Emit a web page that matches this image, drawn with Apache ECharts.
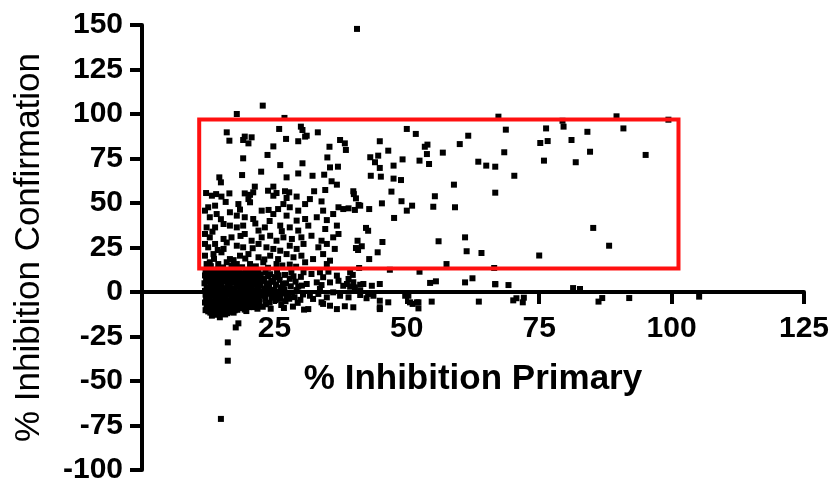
<!DOCTYPE html>
<html><head><meta charset="utf-8">
<script src="https://cdn.jsdelivr.net/npm/echarts@6/dist/echarts.min.js"></script>
<style>html,body{margin:0;padding:0;background:#fff}#c{width:835px;height:482px}</style>
</head><body><div id="c"></div>
<script>
// ---- data ----
const xTitle = '% Inhibition Primary';
const yTitle = '% Inhibition Confirmation';
// hit-selection gate: [xMin, yMin, xMax, yMax]
const gateBox = [10.8, 13.2, 101.3, 96.9];

const upperLeftPoints = [[22.8,104.7],[17.9,100],[26.9,97.8],[16.0,89.7],[16.5,85],[25.9,91.6],[30.0,92.9],[30.3,91],[30.8,87.3],[31.1,87.8],[33.2,89.7],[19.4,87.3],[20.7,86.9],[20.1,83.5],[19.1,85.4],[27.2,86],[29.5,84.7],[24.8,81.8],[37.4,85.4],[38.3,83.5],[38.5,79.8],[35.4,81.6],[23.7,77],[19.1,75.1],[35,75.6],[26.1,71.3],[30.3,72.3],[35.5,70],[37,70.4],[22.5,67.6],[18.9,65.7],[14.6,64.4],[14.9,61.6],[27.3,64.4],[29.5,66.6],[32.2,65.3],[34.4,65.9],[35.8,62.2],[36.8,60.3],[21.3,59.2],[24.8,59.2],[23.8,56.9],[25.4,55.6],[27,56.6],[27.8,56],[32.5,56.6],[34.6,57.3],[12.1,55.6],[13.2,54.1],[14,55],[16.5,55.4],[19.4,55.4],[20.4,54.6],[21,56]];

const leftBoxPoints = [[15.0,53.6],[20.1,52.2],[24.8,54.1],[27.3,52.8],[29.2,53.6],[31.7,52.2],
[12.5,47.6],[13.8,48.5],[18.2,49.4],[20.4,50.4],[22.6,45.7],[23.9,46.1],[25.7,46.6],[26.7,49.4],[27.9,47.6],[29.5,45.7],[30.8,49.4],[33.9,50.9],[34.2,45.7],[37.1,47.6],[38.0,46.6],[11.9,45.7],
[12.8,42.0],[14.1,43.8],[16.6,44.8],[17.9,42.9],[19.4,42.0],[21.0,41.0],[24.8,43.8],[27.3,42.9],[29.2,40.1],[30.8,41.0],[33.0,42.0],[34.9,40.4],[36.1,43.8],
[13.8,36.3],[15.4,38.2],[16.6,37.3],[17.9,36.3],[19.1,37.3],[22.0,34.5],[23.2,36.3],[26.1,37.3],[27.9,36.3],[29.5,34.5],[31.4,37.3],[34.6,35.4],[36.8,37.3],[12.2,36.3],
[11.9,32.6],[12.8,30.7],[15.4,29.8],[16.9,30.7],[19.4,32.6],[20.7,28.8],[22.6,30.7],[24.2,31.6],[25.4,28.8],[26.7,30.7],[28.3,29.8],[30.1,30.7],[32.0,31.6],[33.9,28.8],[36.1,30.7],[37.1,32.6],
[12.5,25.1],[13.8,27.0],[15.4,24.2],[17.9,26.0],[19.1,25.1],[22.0,27.0],[23.5,25.1],[24.8,24.2],[26.1,23.2],[27.9,26.0],[29.2,24.2],[30.5,27.0],[33.3,25.1],[34.9,27.0],[36.4,24.2],[11.9,27.0],
[11.9,20.4],[13.5,21.3],[15.0,22.3],[16.6,18.5],[18.5,20.4],[20.1,21.3],[22.0,19.5],[24.2,20.4],[25.7,18.5],[27.3,21.3],[28.6,19.5],[30.1,20.4],[32.3,18.5],[34.2,21.3],[35.5,17.6],
[12.8,16.7],[14.4,15.7],[16.0,16.7],[17.9,15.7],[20.4,15.7],[22.9,16.7],[25.4,15.7],[27.9,15.4],[30.8,16.7],[34.9,15.7],[12.2,15.7],
[13.0,14.5],[15.3,13.8],[16.9,14.8],[18.9,13.9],[21.5,14.4],[23.8,13.6],[26.5,14.9],[29.1,14.2],[13.6,18.6],[17.3,17.9],[19.5,18.8],[23.1,18.3],[14.3,23.6],[20.9,24.6],[16.0,27.8],[18.6,31.5],[13.3,33.9],[21.4,38.5],[14.9,40.9],[18.5,46.3],[15.8,50.6],[24.1,39.9],[26.4,34.2]];

const midBoxPoints = [[67.3,98.5],[50,91.6],[51.7,88.8],[61.6,87.8],[60,83.1],[44.9,84.7],[46.5,79.4],[53.4,81.6],[53.9,82.8],[53.8,77.5],[56.8,78.3],[43.1,75.7],[44.6,76.6],[44,72.9],[44.9,69.7],[49.2,74.5],[52.4,73.8],[54.2,71.9],[47.5,71],[63.5,73.2],[65,71],[66.7,70.4],[43.2,65.3],[45.1,64.8],[47.5,63.7],[48.9,62.9],[58.9,60.3],[66.7,55.8],[39.9,56.6],[40,55],[40.4,52.6],[40.9,48.9],[47.1,56.4],[55.3,53.8],[39,47],[40.2,46.1],[41.2,48.5],[42.9,46.6],[45.3,49.8],[49,51],[50,45.7],[51,48.5],[55,47.9],[59.1,47.6],[47.6,41.6],[42.3,36],[42.7,34.4],[40.7,28.8],[41.5,25.7],[40.4,24.7],[40.8,23.6],[45.4,28.1],[44.5,22.3],[42.9,18.5],[56,28.5],[61,30.7],[61.3,22.9],[64.1,21.9],[57.5,15.7],[41,13.5],[46.8,12.5],[52.4,11.4],[66.5,13.5]];

const rightPoints = [[79.4,96.2],[79.6,92.9],[89.6,98.7],[99.4,96.8],[68.7,91.2],[76.3,91.9],[90.9,91.9],[84.1,90],[75.2,83.7],[76.6,84.8],[81.1,85.4],[68.4,78.5],[84.6,78.8],[95.1,77],[75.9,73.8],[81.9,72.9],[70.3,65.3],[85.2,36],[88.2,26],[75,20.5],[66.7,4.3],[69.2,3.9],[81.4,2.2],[82.7,1.7],[49.7,-2.1],[51.1,-6.7],[52.2,-5.8],[52.2,-9.2],[54.7,-5.4],[63.6,-5.4],[70.1,-4.7],[70.7,-3.5],[71.9,-5.8],[72.1,-3.2],[86.2,-5.4],[86.9,-3.4],[92,-3.4],[105.2,-2.6]];

const nearAxisPoints = [[39.3,11],[39.8,9.6],[39,7.3],[39.9,5.5],[41.2,4.1],[40.2,2.6],[39.3,3],[54.4,5.1],[55.5,6],[61,5.4],[62.4,7.7],[66.7,4.5],
[42.7,-1.1],[43.7,-2.1],[44.9,-4.9],[46.5,-5.8],[44.9,-9.6],[50.3,-2.1],[50.6,-5.8],[51.9,-5.8],
[31.1,4.5],[33,5.4],[33.9,3.9],[35.5,5.4],[37.1,6.3],[38.7,4.5],[41.8,4.5],[43.4,3.5],[44.9,4.5],[34.2,-6.7],[35.5,-7.7],[36.8,-9.6],[38.3,-8],[39.9,-8.6],[44.9,-8.6],[31.7,-2.1],[33.3,-1.1],[34.9,-3],[36.1,-0.2],[37.4,-2.1],[39,-3],[41.2,-1.7],[42.4,-3.5],
[32,10.1],[34.2,8.3],[36.8,9.2],[33.6,11.1],[35.2,11.4],[30.5,11.1],[33.6,1.7],[38,3.5],[41.2,0.7],
[26.8,-9.0],[28.5,-8.2],[30.6,-9.9],[31.4,-9.6],[33.9,-5.8],[32.3,-3.9]];

const blobPoints = [
[12.0,11.6],[11.9,9.3],[12.1,7.2],[11.8,4.9],[12.2,2.7],[11.9,0.6],[12.0,-1.5],[12.1,-3.8],[11.9,-5.9],[12.2,-8.1],[12.0,-10.2],
[12.7,12.4],[12.9,10.3],[12.6,8.0],[12.8,5.9],[13.0,3.6],[12.7,1.5],[12.9,-0.6],[12.6,-2.7],[12.8,-4.9],[13.0,-7.0],[12.7,-9.2],[12.9,-11.6],[13.2,-13.3],
[13.5,11.2],[13.7,8.9],[13.6,6.8],[13.4,4.6],[13.8,2.4],[13.5,0.2],[13.6,-1.9],[13.8,-4.0],[13.5,-6.1],[13.7,-8.4],[13.6,-10.6],[13.4,-12.1],
[14.3,12.6],[14.5,10.1],[14.2,7.7],[14.6,5.5],[14.4,3.1],[14.3,1.0],[14.5,-1.2],[14.2,-3.3],[14.6,-5.4],[14.4,-7.6],[14.3,-9.8],[14.7,-12.3],[14.7,-14.2],
[15.1,11.7],[15.3,9.5],[15.2,7.0],[15.0,4.8],[15.4,2.2],[15.1,0.1],[15.3,-2.0],[15.0,-4.3],[15.2,-6.5],[15.4,-8.7],[15.1,-11.0],
[15.9,12.3],[16.1,10.2],[16.0,8.1],[15.8,5.8],[16.2,3.7],[15.9,1.4],[16.1,-0.8],[15.8,-3.0],[16.0,-5.1],[16.2,-7.4],[15.9,-9.6],[16.1,-11.9],
[16.7,11.0],[16.9,8.6],[16.8,6.3],[16.6,4.2],[17.0,1.9],[16.7,-0.3],[16.9,-2.4],[16.6,-4.7],[16.8,-6.8],[17.0,-9.0],[16.7,-11.2],
[17.5,12.1],[17.7,9.8],[17.6,7.5],[17.4,5.3],[17.8,3.0],[17.5,0.8],[17.7,-1.4],[17.4,-3.6],[17.6,-5.8],[17.8,-8.0],[17.5,-10.3],
[18.3,11.4],[18.5,9.0],[18.4,6.6],[18.2,4.4],[18.6,2.1],[18.3,-0.1],[18.5,-2.3],[18.2,-4.5],[18.4,-6.7],[18.6,-9.1],
[19.1,10.6],[19.3,8.3],[19.2,5.9],[19.0,3.7],[19.4,1.3],[19.1,-0.9],[19.3,-3.1],[19.0,-5.3],[19.2,-7.6],[19.4,-9.9],
[19.9,11.8],[20.1,9.3],[20.0,7.0],[19.8,4.6],[20.2,2.5],[19.9,0.2],[20.1,-2.0],[19.8,-4.2],[20.0,-6.4],[20.2,-8.5],
[20.7,10.4],[20.9,8.1],[20.8,5.6],[20.6,3.2],[21.0,1.0],[20.7,-1.2],[20.9,-3.5],[20.6,-5.7],[20.8,-7.9],
[21.5,11.5],[21.7,8.8],[21.6,6.4],[21.4,4.0],[21.8,1.8],[21.5,-0.5],[21.7,-2.7],[21.4,-4.9],[21.6,-7.2],[21.8,-9.4],
[22.4,9.8],[22.6,6.2],[22.3,3.5],[22.7,0.4],[22.5,-2.2],[22.2,-5.6],[22.8,-8.3],
[23.3,11.2],[23.1,7.6],[23.5,4.8],[23.2,1.9],[23.6,-1.0],[23.3,-3.9],[23.4,-6.9],
[24.2,10.0],[24.4,5.7],[24.0,2.8],[24.3,-0.2],[24.5,-3.2],[24.1,-6.0],[24.3,-9.4],
[25.1,8.4],[25.3,4.1],[25.0,1.2],[25.4,-1.8],[25.2,-4.6],[25.5,11.7],
[26.0,6.8],[26.2,2.6],[26.4,-0.8],[26.1,-3.9],[26.3,-7.3],
[27.0,9.6],[27.2,4.9],[26.9,1.5],[27.3,-2.6],[27.1,-5.2],
[27.9,7.4],[28.1,3.2],[28.3,-0.5],[27.8,-3.8],[28.2,11.0],
[29.0,5.8],[29.2,1.1],[28.8,-2.9],[29.4,-6.1],
[30.0,8.5],[30.2,3.6],[30.4,-1.4],[29.9,-4.4]];

const blobFillPoints = [
[12.4,10.6],[12.3,6.1],[12.5,2.0],[12.4,-2.2],[12.3,-6.6],[12.5,-10.9],
[13.2,12.0],[13.1,7.5],[13.3,3.0],[13.2,-1.2],[13.1,-5.5],[13.3,-9.8],
[14.0,9.8],[13.9,5.2],[14.1,0.5],[14.0,-4.6],[13.9,-8.8],[14.1,-12.8],
[14.8,11.4],[14.9,7.0],[14.7,2.8],[14.8,-1.7],[14.9,-6.0],[14.8,-10.4],
[15.6,10.8],[15.5,6.4],[15.7,1.2],[15.6,-3.5],[15.5,-7.9],[15.7,-12.6],
[16.4,12.0],[16.5,7.4],[16.3,2.9],[16.4,-1.6],[16.5,-5.9],[16.4,-10.3],
[17.2,10.3],[17.1,5.9],[17.3,1.5],[17.2,-2.8],[17.1,-7.1],[17.3,-11.6],
[18.0,12.5],[18.1,8.0],[17.9,3.6],[18.0,-0.9],[18.1,-5.2],[18.0,-10.0],
[18.8,10.0],[18.7,5.2],[18.9,0.8],[18.8,-3.8],[18.7,-8.2],
[19.6,12.2],[19.5,7.2],[19.7,2.6],[19.6,-1.8],[19.5,-6.2],[19.7,-10.7],
[20.4,10.9],[20.3,6.3],[20.5,1.6],[20.4,-2.9],[20.3,-7.0],
[21.2,9.9],[21.1,5.1],[21.3,0.2],[21.2,-4.0],[21.1,-8.5],
[22.0,11.4],[22.1,7.8],[21.9,2.2],[22.0,-3.6],[22.1,-6.9],
[23.8,9.0],[23.7,0.2],[24.8,6.4],[24.7,-1.0],[25.8,9.4],[25.7,0.0],[26.6,4.5],[27.6,-0.9],[28.6,8.8],[29.5,3.1]];

const outlierPoints = [[40.6,147.8],[17.7,-19.9],[18.2,-17.6],[16.2,-28.3],[16.2,-38.6],[14.9,-71.3]];

// ---- chart ----
const FONT = '"Liberation Sans", Arial, Helvetica, sans-serif';
const Y_MIN = -100, Y_MAX = 150;
const GRID = {left:142, right:31, top:25, bottom:12};
const allPoints = [].concat(blobPoints, blobFillPoints, leftBoxPoints, upperLeftPoints, midBoxPoints, rightPoints, nearAxisPoints, outlierPoints);
const chartH = 482;
// x axis sits on y = 0: shift it up from the grid bottom by the pixel distance of 0 from Y_MIN
const plotH = chartH - GRID.top - GRID.bottom;
const xAxisOffset = -plotH * (0 - Y_MIN) / (Y_MAX - Y_MIN);

const chart = echarts.init(document.getElementById('c'), null, {renderer:'canvas'});
chart.setOption({
  animation:false,
  backgroundColor:'#fff',
  grid:Object.assign({containLabel:false, outerBoundsMode:'none'}, GRID),
  xAxis:{
    type:'value', min:0, max:125, interval:25,
    offset:xAxisOffset,
    splitLine:{show:false},
    axisLine:{show:true,onZero:false,lineStyle:{color:'#000',width:4}},
    axisTick:{show:true,inside:false,length:12,lineStyle:{color:'#000',width:4}},
    axisLabel:{color:'#000',fontSize:30,fontWeight:'bold',fontFamily:FONT,margin:22,
      formatter:function(v){return v===0?'':String(v);}},
    name:xTitle,nameLocation:'middle',nameGap:70,
    nameTextStyle:{color:'#000',fontSize:35,fontWeight:'bold',fontFamily:FONT}
  },
  yAxis:{
    type:'value', min:Y_MIN, max:Y_MAX, interval:25,
    splitLine:{show:false},
    axisLine:{show:true,onZero:false,lineStyle:{color:'#000',width:4}},
    axisTick:{show:true,inside:false,length:12,lineStyle:{color:'#000',width:4}},
    axisLabel:{color:'#000',fontSize:30,fontWeight:'bold',fontFamily:FONT,margin:19},
    name:yTitle,nameLocation:'middle',nameGap:95,
    nameTextStyle:{color:'#000',fontSize:35,fontWeight:'normal',fontFamily:FONT}
  },
  series:[{
    type:'scatter',
    symbol:'rect',
    symbolSize:6,
    itemStyle:{color:'#000',opacity:1},
    data:allPoints,
    markArea:{
      silent:true,
      z:10,
      itemStyle:{color:'rgba(0,0,0,0)',borderColor:'#ff1010',borderWidth:4},
      data:[[{coord:[gateBox[0],gateBox[1]]},{coord:[gateBox[2],gateBox[3]]}]]
    }
  }]
});
</script>
</body></html>
